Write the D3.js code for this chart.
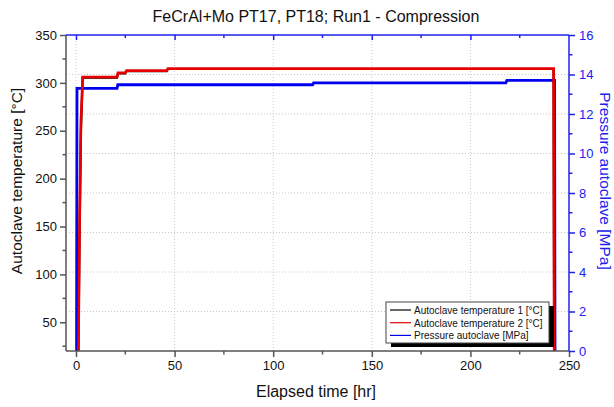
<!DOCTYPE html>
<html>
<head>
<meta charset="utf-8">
<script src="https://cdn.jsdelivr.net/npm/d3@7"></script>
<style>
  body { margin: 0; background: #fff; }
  svg { font-family: "Liberation Sans", Arial, sans-serif; }
</style>
</head>
<body>
<div id="chart"></div>
<script>
'use strict';

// temperature series (both thermocouples), time in hours
const timeTemp = [1.2, 1.8, 2.5, 3.4, 20.8, 21.3, 25, 25.6, 46, 46.6, 242.2, 242.5];
const temp1 = [20, 140, 250, 305.5, 305.5, 310, 310, 312.3, 312.3, 314.5, 314.5, 20];
const temp2 = [20, 150, 260, 306, 306, 310.5, 310.5, 312.7, 312.7, 314.8, 314.8, 20];

// autoclave pressure
const timePress = [0.3, 0.5, 20.8, 21.2, 120, 120.5, 218, 218.5, 242.7, 242.9];
const pressure = [0, 13.3, 13.3, 13.48, 13.48, 13.58, 13.58, 13.7, 13.7, 0];

const xTicks = [0, 50, 100, 150, 200, 250];
const yTicks = [50, 100, 150, 200, 250, 300, 350];
const y2Ticks = [0, 2, 4, 6, 8, 10, 12, 14, 16];

const legendItems = [
  { label: "Autoclave temperature 1 [°C]", color: "#000" },
  { label: "Autoclave temperature 2 [°C]", color: "#e00000" },
  { label: "Pressure autoclave [MPa]", color: "#0000e6" }
];

const width = 614, height = 407;
const margin = { top: 35, right: 45, bottom: 56, left: 66 };
const blue = "#2020ee";
const axisGray = "#555";

const svg = d3.select("#chart").append("svg")
  .attr("width", width)
  .attr("height", height);

const x = d3.scaleLinear().domain([-5.07, 250]).range([margin.left, width - margin.right]);
const y = d3.scaleLinear().domain([20, 350]).range([height - margin.bottom, margin.top]);
const y2 = d3.scaleLinear().domain([0, 16]).range([height - margin.bottom, margin.top]);

const x0 = margin.left, x1 = width - margin.right;
const yb = height - margin.bottom, yt = margin.top;

// grid
const grid = svg.append("g").attr("stroke", "#c8c8c8").attr("stroke-dasharray", "1,2").attr("stroke-width", 1);
grid.selectAll(".vx").data([0, 50, 100, 150, 200]).enter().append("line")
  .attr("x1", d => x(d)).attr("x2", d => x(d)).attr("y1", yt).attr("y2", yb);
grid.selectAll(".hy").data([2, 4, 6, 8, 10, 12, 14]).enter().append("line")
  .attr("y1", d => y2(d)).attr("y2", d => y2(d)).attr("x1", x0).attr("x2", x1);

// data lines
const lineT = (vals) => d3.line().x((d, i) => x(timeTemp[i])).y(d => y(d))(vals);
const lineP = d3.line().x((d, i) => x(timePress[i])).y(d => y2(d));

svg.append("path").attr("d", lineP(pressure))
  .attr("fill", "none").attr("stroke", "#0000f0").attr("stroke-width", 2.8);
svg.append("path").attr("d", lineT(temp1))
  .attr("fill", "none").attr("stroke", "#000").attr("stroke-width", 2.2);
svg.append("path").attr("d", lineT(temp2))
  .attr("fill", "none").attr("stroke", "#e60000").attr("stroke-width", 2.7);

// axes
const xMinor = d3.range(25, 250, 50);
const yMinor = d3.range(25, 350, 50);
const y2Minor = d3.range(1, 16, 2);

const bottomAxis = svg.append("g").attr("transform", `translate(0,${yb})`)
  .call(d3.axisBottom(x).tickValues(xTicks).tickSize(6).tickPadding(4));
bottomAxis.append("g").selectAll("line").data(xMinor).enter().append("line")
  .attr("x1", d => x(d)).attr("x2", d => x(d)).attr("y1", 0).attr("y2", 3.5);
bottomAxis.select(".domain").attr("d", `M${x0},0H${x1}`);

const leftAxis = svg.append("g").attr("transform", `translate(${x0},0)`)
  .call(d3.axisLeft(y).tickValues(yTicks).tickSize(6).tickPadding(3));
leftAxis.append("g").selectAll("line").data(yMinor).enter().append("line")
  .attr("x1", 0).attr("x2", -3.5).attr("y1", d => y(d)).attr("y2", d => y(d));
leftAxis.select(".domain").attr("d", `M0,${yb}V${yt}`);

[bottomAxis, leftAxis].forEach(g => {
  g.selectAll("line, .domain").attr("stroke", axisGray).attr("stroke-width", 1.5);
  g.selectAll("text").attr("fill", "#111").style("font-size", "13px").style("font-family", "Liberation Sans, Arial, sans-serif");
});

const rightAxis = svg.append("g").attr("transform", `translate(${x1},0)`)
  .call(d3.axisRight(y2).tickValues(y2Ticks).tickSize(6).tickPadding(4));
rightAxis.append("g").selectAll("line").data(y2Minor).enter().append("line")
  .attr("x1", 0).attr("x2", 3.5).attr("y1", d => y2(d)).attr("y2", d => y2(d));
rightAxis.select(".domain").attr("d", `M0,${yb}V${yt}`);

const topAxis = svg.append("g").attr("transform", `translate(0,${yt})`)
  .call(d3.axisTop(x).tickValues(xTicks.slice(0, 5)).tickSize(-5).tickFormat(""));
topAxis.append("g").selectAll("line").data(xMinor).enter().append("line")
  .attr("x1", d => x(d)).attr("x2", d => x(d)).attr("y1", 0).attr("y2", 3);
topAxis.select(".domain").attr("d", `M${x0},0H${x1}`);

[rightAxis, topAxis].forEach(g => {
  g.selectAll("line, .domain").attr("stroke", blue).attr("stroke-width", 1.5);
  g.selectAll("text").attr("fill", blue).style("font-size", "13px").style("font-family", "Liberation Sans, Arial, sans-serif");
});

// titles
svg.append("text").attr("x", 316).attr("y", 22).attr("text-anchor", "middle")
  .style("font-size", "16px").attr("fill", "#111")
  .text("FeCrAl+Mo PT17, PT18; Run1 - Compression");

svg.append("text").attr("x", 316).attr("y", 397).attr("text-anchor", "middle")
  .style("font-size", "16px").attr("fill", "#111")
  .text("Elapsed time [hr]");

svg.append("text").attr("transform", "translate(22,181) rotate(-90)")
  .attr("text-anchor", "middle").style("font-size", "15.5px").attr("fill", "#111")
  .text("Autoclave temperature [°C]");

svg.append("text").attr("transform", "translate(600,181) rotate(90)")
  .attr("text-anchor", "middle").style("font-size", "15.5px").attr("fill", blue)
  .text("Pressure autoclave [MPa]");

// legend
const lg = svg.append("g").attr("transform", "translate(386,302)");
const lw = 163, lh = 41;
lg.append("rect").attr("x", 5).attr("y", 4).attr("width", lw).attr("height", lh).attr("fill", "#000");
lg.append("rect").attr("width", lw).attr("height", lh).attr("fill", "#fff").attr("stroke", "#444").attr("stroke-width", 1);
const rows = lg.selectAll(".row").data(legendItems).enter().append("g")
  .attr("transform", (d, i) => `translate(0,${8 + i * 12.7})`);
rows.append("line").attr("x1", 4).attr("x2", 25).attr("stroke", d => d.color).attr("stroke-width", 1.2);
rows.append("text").attr("x", 28).attr("y", 3.8).style("font-size", "10px").attr("fill", "#111").text(d => d.label);
</script>
</body>
</html>
